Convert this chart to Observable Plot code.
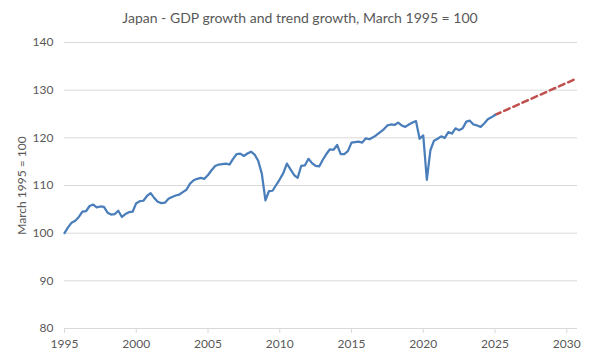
<!DOCTYPE html>
<html>
<head>
<meta charset="utf-8">
<script src="https://cdn.jsdelivr.net/npm/d3@7"></script>
<script src="https://cdn.jsdelivr.net/npm/@observablehq/plot@0.6"></script>
<style>
  html, body { margin: 0; padding: 0; background: #fff; }
  #title { width: 600px; height: 30px; line-height: 36px; text-align: center;
           font-family: Lato, "Open Sans", sans-serif; font-size: 14px; color: #595959; }
  #chart svg [aria-label="x-axis tick"] path { stroke: #d9d9d9; }
</style>
</head>
<body>
<div id="title">Japan - GDP growth and trend growth, March 1995 = 100</div>
<div id="chart"></div>
<script>
// Quarterly real GDP index, first value = March quarter 1995
const startYear = 1995;
const gdpIndex = [
  100.0, 101.2, 102.2, 102.6,   // 1995
  103.4, 104.5, 104.6, 105.7,   // 1996
  106.0, 105.4, 105.6, 105.5,   // 1997
  104.3, 103.9, 104.0, 104.7,   // 1998
  103.4, 104.0, 104.4, 104.5,   // 1999
  106.3, 106.7, 106.8, 107.8,   // 2000
  108.4, 107.4, 106.6, 106.3,   // 2001
  106.4, 107.2, 107.6, 107.9,   // 2002
  108.1, 108.6, 109.1, 110.4,   // 2003
  111.1, 111.4, 111.6, 111.4,   // 2004
  112.2, 113.2, 114.1, 114.4,   // 2005
  114.5, 114.6, 114.4, 115.6,   // 2006
  116.6, 116.7, 116.2, 116.7,   // 2007
  117.1, 116.5, 115.2, 112.5,   // 2008
  106.9, 108.8, 108.9, 110.1,   // 2009
  111.3, 112.6, 114.6, 113.4,   // 2010
  112.2, 111.6, 114.1, 114.2,   // 2011
  115.6, 114.7, 114.1, 114.0,   // 2012
  115.4, 116.6, 117.6, 117.5,   // 2013
  118.5, 116.6, 116.6, 117.2,   // 2014
  119.0, 119.1, 119.2, 119.0,   // 2015
  119.9, 119.7, 120.1, 120.6,   // 2016
  121.2, 121.8, 122.6, 122.8,   // 2017
  122.7, 123.2, 122.6, 122.3,   // 2018
  122.8, 123.2, 123.5, 119.8,   // 2019
  120.5, 111.2, 117.4, 119.4,   // 2020
  119.8, 120.3, 120.0, 121.2,   // 2021
  120.9, 122.0, 121.6, 122.0,   // 2022
  123.4, 123.6, 122.8, 122.6,   // 2023
  122.3, 123.0, 123.9, 124.3,   // 2024
  124.8                         // 2025
];
// Trend growth projection (start and end points)
const trendDates = ["2025-01-01", "2030-07-01"];
const trendValues = [124.8, 132.2];

const xTickYears = [1995, 2000, 2005, 2010, 2015, 2020, 2025, 2030];
const yTicks = [80, 90, 100, 110, 120, 130, 140];
const xDomain = ["1995-01-01", "2030-10-01"];
const yLabel = "March 1995 = 100";

const gdpData = gdpIndex.map((v, i) => ({
  date: new Date(Date.UTC(startYear, i * 3, 1)),
  value: v
}));
const trendData = trendDates.map((d, i) => ({ date: new Date(d), value: trendValues[i] }));

const chart = Plot.plot({
  width: 600,
  height: 330,
  marginTop: 12,
  marginBottom: 32,
  marginLeft: 64,
  marginRight: 23,
  style: { fontFamily: "Lato, 'Open Sans', sans-serif", fontSize: "12px", color: "#595959", background: "#fff" },
  x: {
    type: "utc",
    domain: xDomain.map(d => new Date(d)),
    ticks: xTickYears.map(y => new Date(Date.UTC(y, 0, 1))),
    tickFormat: d3.utcFormat("%Y"),
    tickSize: 5,
    tickPadding: 6,
    label: null
  },
  y: {
    domain: [80, 140],
    ticks: yTicks,
    tickSize: 0,
    tickPadding: 11,
    label: null
  },
  marks: [
    Plot.ruleY(yTicks, { stroke: "#d9d9d9", strokeWidth: 1 }),
    Plot.text([yLabel], { frameAnchor: "left", textAnchor: "middle", dx: -42, rotate: -90, fill: "#595959", fontSize: 12 }),
    Plot.line(trendData, { x: "date", y: "value", stroke: "#c0504d", strokeWidth: 2.5, strokeDasharray: "6,4" }),
    Plot.line(gdpData, { x: "date", y: "value", stroke: "#4a7ebb", strokeWidth: 2.25 })
  ]
});
document.getElementById("chart").appendChild(chart);
</script>
</body>
</html>
